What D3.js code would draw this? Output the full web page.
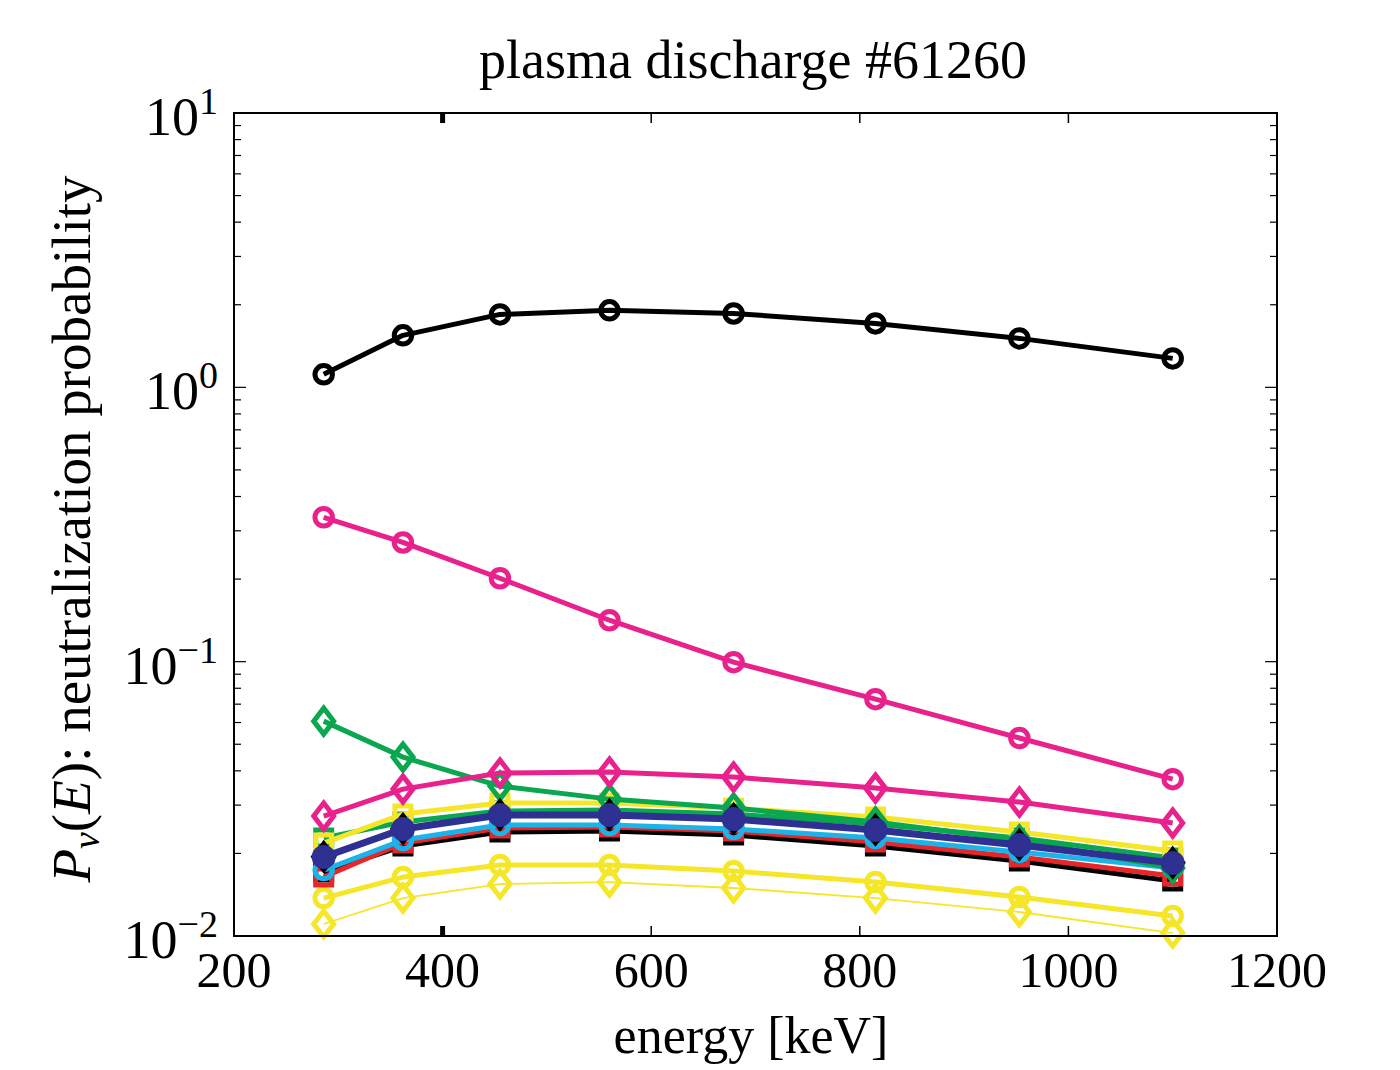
<!DOCTYPE html>
<html>
<head>
<meta charset="utf-8">
<script src="https://cdn.jsdelivr.net/npm/d3@7"></script>
<style>
  body { margin: 0; background: #fff; }
  text { font-family: "Liberation Serif", "DejaVu Serif", serif; fill: #000; }
</style>
</head>
<body>
<svg width="1400" height="1070"></svg>
<script>
// energies [keV] shared by every curve
var energy = [286, 362, 455, 560, 679, 815, 953, 1100];

// neutralization probabilities, one array per curve
var blackCircles   = [1.115, 1.547, 1.844, 1.908, 1.859, 1.71, 1.508, 1.275];
var magentaCircles = [0.336, 0.272, 0.2014, 0.1416, 0.0996, 0.073, 0.0527, 0.0373];
var greenDiamonds  = [0.0607, 0.04488, 0.03519, 0.03155, 0.02926, 0.02603, 0.02237, 0.01769];
var magentaDiamonds= [0.02737, 0.03431, 0.03925, 0.03958, 0.03795, 0.0346, 0.03077, 0.02581];
var yellowSquares  = [0.02182, 0.02782, 0.03051, 0.03051, 0.02925, 0.02714, 0.02392, 0.0204];
var greenSquares   = [0.02275, 0.02603, 0.02853, 0.02877, 0.02782, 0.02559, 0.02275, 0.01924];
var redSquares     = [0.0164, 0.02182, 0.02474, 0.02495, 0.02413, 0.022, 0.0194, 0.01654];
var cyanCircles    = [0.01739, 0.02237, 0.02538, 0.02538, 0.02454, 0.02275, 0.02023, 0.01769];
var blackSquares   = [0.01711, 0.02128, 0.02392, 0.02413, 0.02332, 0.02128, 0.01876, 0.01586];
var blackDiamonds  = [0.01945, 0.0246, 0.02768, 0.02768, 0.02675, 0.0244, 0.02152, 0.0185];
var blueCircles    = [0.0194, 0.02454, 0.0276, 0.0276, 0.02668, 0.02433, 0.02146, 0.01844];
var yellowCircles  = [0.01375, 0.0164, 0.01814, 0.01814, 0.01725, 0.01573, 0.01387, 0.01183];
var yellowDiamonds = [0.01106, 0.01375, 0.01547, 0.01573, 0.01496, 0.01375, 0.01223, 0.01025];

var xTicks = [200, 400, 600, 800, 1000, 1200];
var yTicks = [0.01, 0.1, 1, 10];
var yTickExp = ["\u22122", "\u22121", "0", "1"];

var title = "plasma discharge #61260";
var xLabel = "energy [keV]";

var svg = d3.select("svg");
var margin = { top: 113, right: 123, bottom: 134, left: 234 };
var width = +svg.attr("width");
var height = +svg.attr("height");
var innerWidth = width - margin.left - margin.right;
var innerHeight = height - margin.top - margin.bottom;

var xScale = d3.scaleLinear().domain([200, 1200]).range([0, innerWidth]);
var yScale = d3.scaleLog().domain([0.01, 10]).range([innerHeight, 0]);

var g = svg.append("g")
  .attr("transform", "translate(" + margin.left + "," + margin.top + ")");

// curves, drawn bottom to top
var series = [
  { values: yellowDiamonds, color: "#f5e62a", marker: "diamond", lw: 1.8 },
  { values: yellowCircles, color: "#f5e62a", marker: "circle", lw: 5 },
  { values: blackSquares, color: "#000000", marker: "square", lw: 5 },
  { values: redSquares, color: "#e8262a", marker: "square", lw: 5 },
  { values: cyanCircles, color: "#1cb4e8", marker: "circle", lw: 5 },
  { values: greenSquares, color: "#0aa650", marker: "square", lw: 5 },
  { values: yellowSquares, color: "#f5e62a", marker: "square", lw: 5 },
  { values: greenDiamonds, color: "#0aa650", marker: "diamond", lw: 5 },
  { values: blackDiamonds, color: "#000000", marker: "diamondFill", lw: 5 },
  { values: blueCircles, color: "#2e3192", marker: "dot", lw: 7 },
  { values: magentaDiamonds, color: "#e8218c", marker: "diamond", lw: 5 },
  { values: magentaCircles, color: "#e8218c", marker: "circle", lw: 5 },
  { values: blackCircles, color: "#000000", marker: "circle", lw: 5 }
];

var line = d3.line()
  .x(function (d) { return xScale(d[0]); })
  .y(function (d) { return yScale(d[1]); });

function markerPath(type) {
  if (type === "square") return "M-8,-8H8V8H-8Z";
  if (type === "diamond" || type === "diamondFill") return "M0,-13L10,0L0,13L-10,0Z";
  if (type === "dot") return d3.symbol(d3.symbolCircle, 380)();
  return d3.symbol(d3.symbolCircle, 240)();
}

series.forEach(function (s) {
  var pts = energy.map(function (e, i) { return [e, s.values[i]]; });
  var sg = g.append("g");
  sg.append("path")
    .attr("d", line(pts))
    .attr("fill", "none")
    .attr("stroke", s.color)
    .attr("stroke-width", s.lw)
    .attr("stroke-linejoin", "round");
  sg.selectAll("path.m").data(pts).enter().append("path")
    .attr("class", "m")
    .attr("d", markerPath(s.marker))
    .attr("transform", function (d) { return "translate(" + xScale(d[0]) + "," + yScale(d[1]) + ")"; })
    .attr("fill", (s.marker === "dot" || s.marker === "diamondFill") ? s.color : "none")
    .attr("stroke", s.color)
    .attr("stroke-width", s.marker === "dot" ? 2 : 5);
});

// frame
g.append("rect")
  .attr("width", innerWidth).attr("height", innerHeight)
  .attr("fill", "none").attr("stroke", "#000").attr("stroke-width", 2);

// x ticks (bottom and top, inward)
xTicks.forEach(function (t) {
  var x = xScale(t);
  var w = t === 400 ? 5 : 1.5;
  g.append("line").attr("x1", x).attr("x2", x).attr("y1", innerHeight).attr("y2", innerHeight - 10)
    .attr("stroke", "#000").attr("stroke-width", w);
  g.append("line").attr("x1", x).attr("x2", x).attr("y1", 0).attr("y2", 10)
    .attr("stroke", "#000").attr("stroke-width", w);
  g.append("text")
    .attr("x", x).attr("y", innerHeight + 51)
    .attr("text-anchor", "middle")
    .style("font-size", "50px")
    .text(t);
});

// y ticks, major and minor (left and right, inward)
var minor = [];
[0.01, 0.1, 1].forEach(function (d) {
  for (var k = 2; k <= 9; k++) minor.push(d * k);
});
yTicks.concat(minor).forEach(function (t) {
  var y = yScale(t);
  var len = yTicks.indexOf(t) >= 0 ? 12 : 7;
  g.append("line").attr("x1", 0).attr("x2", len).attr("y1", y).attr("y2", y)
    .attr("stroke", "#000").attr("stroke-width", 1.2);
  g.append("line").attr("x1", innerWidth).attr("x2", innerWidth - len).attr("y1", y).attr("y2", y)
    .attr("stroke", "#000").attr("stroke-width", 1.2);
});

yTicks.forEach(function (t, i) {
  var txt = g.append("text")
    .attr("x", -16).attr("y", yScale(t) + 22)
    .attr("text-anchor", "end")
    .style("font-size", "54px");
  txt.append("tspan").text("10");
  txt.append("tspan").attr("dy", -21).style("font-size", "38px").text(yTickExp[i]);
});

// title and axis labels
svg.append("text")
  .attr("x", 753).attr("y", 78)
  .attr("text-anchor", "middle")
  .style("font-size", "54px")
  .text(title);

svg.append("text")
  .attr("x", 751).attr("y", 1053)
  .attr("text-anchor", "middle")
  .style("font-size", "52px")
  .text(xLabel);

var yl = svg.append("text")
  .attr("transform", "translate(90,529) rotate(-90)")
  .attr("text-anchor", "middle")
  .style("font-size", "55px");
yl.append("tspan").style("font-style", "italic").text("P");
yl.append("tspan").attr("dy", 9).style("font-style", "italic").style("font-size", "38px").text("\u03bd");
yl.append("tspan").attr("dy", -9).text("(");
yl.append("tspan").style("font-style", "italic").text("E");
yl.append("tspan").text("): neutralization probability");
</script>
</body>
</html>
